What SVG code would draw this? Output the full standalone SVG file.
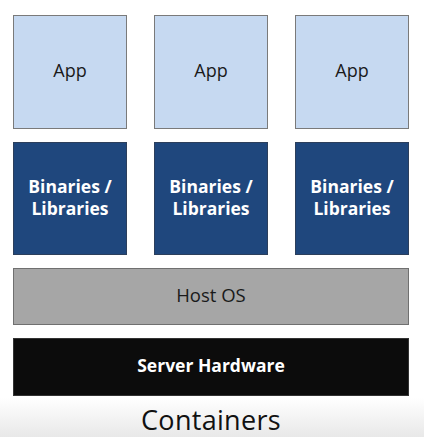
<svg xmlns="http://www.w3.org/2000/svg" width="424" height="437" viewBox="0 0 424 437">
<defs>
<linearGradient id="bg" x1="0" y1="0" x2="0" y2="1">
<stop offset="0" stop-color="#ffffff"/>
<stop offset="1" stop-color="#e8e8e8"/>
</linearGradient>
</defs>
<style>
.app{fill:#c6d9f1;stroke:#7a7a7a;stroke-width:1}
.bin{fill:#1f477d;stroke:#2c3f5c;stroke-width:1}
.os{fill:#a6a6a6;stroke:#707070;stroke-width:1}
.hw{fill:#0c0c0c;stroke:#333;stroke-width:1}
.t{font-family:"Open Sans",Lato,"DejaVu Sans",sans-serif;text-anchor:middle}
.ta{font-size:18px;fill:#1a1a1a}
.tb{font-size:17.5px;font-weight:bold;fill:#ffffff}
.to{font-size:18.5px;fill:#1a1a1a}
.th{font-size:17.5px;font-weight:bold;fill:#ffffff}
.tc{font-size:27px;fill:#111;letter-spacing:0.3px}
</style>
<rect x="0" y="0" width="424" height="437" fill="#ffffff"/>
<rect x="0" y="398" width="424" height="39" fill="url(#bg)"/>
<g id="connectors"></g>
<g id="app1"><rect class="app" x="13.5" y="15.5" width="113" height="113"/><text class="t ta" x="70" y="77">App</text></g>
<g id="app2"><rect class="app" x="154.5" y="15.5" width="113" height="113"/><text class="t ta" x="211" y="77">App</text></g>
<g id="app3"><rect class="app" x="295.5" y="15.5" width="113" height="113"/><text class="t ta" x="352" y="77">App</text></g>
<g id="bin1"><rect class="bin" x="13.5" y="142.5" width="113" height="112"/><text class="t tb" x="70" y="193">Binaries /</text><text class="t tb" x="70" y="215">Libraries</text></g>
<g id="bin2"><rect class="bin" x="154.5" y="142.5" width="113" height="112"/><text class="t tb" x="211" y="193">Binaries /</text><text class="t tb" x="211" y="215">Libraries</text></g>
<g id="bin3"><rect class="bin" x="295.5" y="142.5" width="113" height="112"/><text class="t tb" x="352" y="193">Binaries /</text><text class="t tb" x="352" y="215">Libraries</text></g>
<g id="hostos"><rect class="os" x="13.5" y="268.5" width="395" height="56"/><text class="t to" x="211" y="302">Host OS</text></g>
<g id="hardware"><rect class="hw" x="13.5" y="338.5" width="395" height="57"/><text class="t th" x="211" y="372">Server Hardware</text></g>
<g id="caption"><text class="t tc" x="211" y="430">Containers</text></g>
</svg>
